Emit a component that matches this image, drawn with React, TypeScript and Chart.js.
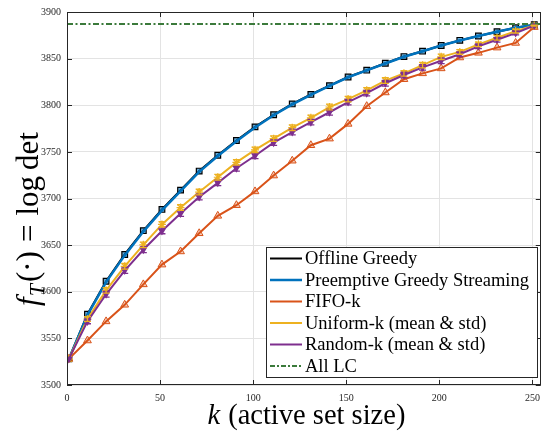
import { useEffect, useRef } from "react";
import { Chart, registerables } from "chart.js";
Chart.register(...registerables);

const kValues = [1, 11, 21, 31, 41, 51, 61, 71, 81, 91, 101, 111, 121, 131, 141, 151, 161, 171, 181, 191, 201, 211, 221, 231, 241, 251];
const offlineGreedy = [3528, 3576, 3611.3, 3640, 3665.5, 3688.3, 3709, 3729.4, 3746.4, 3762.2, 3776.8, 3789.8, 3801.4, 3811.6, 3821, 3830.3, 3837.6, 3845, 3852.2, 3858, 3864.1, 3869.6, 3874.3, 3878.9, 3883.1, 3886.3];
const preemptiveGreedy = [3528, 3575, 3610.3, 3639, 3664.5, 3687.3, 3708, 3728.6, 3745.6, 3761.5, 3776.2, 3789.3, 3801, 3811.2, 3820.7, 3830, 3837.4, 3844.8, 3852, 3857.9, 3864, 3869.5, 3874.2, 3878.8, 3883, 3886.2];
const fifoK = [3528, 3547.7, 3568.2, 3586, 3607.9, 3629.1, 3643.2, 3662.7, 3681.4, 3692.8, 3707.6, 3724.6, 3740.5, 3757.1, 3764.2, 3780, 3799, 3813.7, 3827.9, 3834.2, 3839.5, 3851.2, 3856.2, 3861.8, 3866.8, 3883.8];
const uniformMean = [3528, 3570.8, 3601.5, 3627.3, 3650.3, 3672.2, 3690.3, 3706.9, 3722.8, 3738.7, 3752.2, 3764.2, 3775.9, 3786.5, 3798.1, 3806.6, 3816, 3826.5, 3834.2, 3843, 3851.9, 3857.2, 3865.3, 3872.4, 3879.5, 3885.5];
const uniformStd = [0, 2.5, 3, 3, 3, 3, 3, 3, 3, 3, 3, 3, 3, 3, 3, 3, 3, 3, 3, 3, 3, 2.5, 2.5, 2.5, 2, 0.5];
const randomMean = [3528, 3568.2, 3597.3, 3622.7, 3645, 3665.2, 3683.9, 3701.6, 3716.8, 3732.4, 3745.8, 3759.9, 3771.3, 3781.9, 3792.5, 3803.4, 3813, 3823.6, 3832.4, 3840.6, 3847.7, 3854.7, 3863.2, 3870.3, 3877.4, 3885.5];
const randomStd = [0, 2.5, 3, 3, 3, 3, 3, 3, 3, 3, 3, 3, 3, 3, 3, 3, 3, 3, 3, 3, 3, 2.5, 2.5, 2.5, 2, 0.5];
const allLCValue = 3887;
const allLCRange = [0, 254.5];
const xTicks = [0, 50, 100, 150, 200, 250];
const yTicks = [3500, 3550, 3600, 3650, 3700, 3750, 3800, 3850, 3900];
const legendLabels = ["Offline Greedy", "Preemptive Greedy Streaming", "FIFO-k", "Uniform-k (mean & std)", "Random-k (mean & std)", "All LC"];

const FONT = "'Liberation Serif', 'Times New Roman', serif";
const AXIS = "#262626";
const C_BLACK = "#000000";
const C_BLUE = "#0072BD";
const C_ORANGE = "#D95319";
const C_YELLOW = "#EDB120";
const C_PURPLE = "#7E2F8E";
const C_GREEN = "#3B7A3B";

const pts = (ys: number[]) => ys.map((y, i) => ({ x: kValues[i], y }));

const errorBarPlugin = {
  id: "errorBars",
  afterDatasetsDraw(chart: any) {
    const ctx = chart.ctx;
    const xs = chart.scales.x;
    const ys = chart.scales.y;
    chart.data.datasets.forEach((ds: any) => {
      if (!ds.errStd) return;
      ctx.save();
      ctx.strokeStyle = ds.borderColor;
      ctx.lineWidth = 1.3;
      ds.data.forEach((p: any, i: number) => {
        const s = ds.errStd[i];
        if (!s) return;
        const px = xs.getPixelForValue(p.x);
        const y1 = ys.getPixelForValue(p.y - s);
        const y2 = ys.getPixelForValue(p.y + s);
        ctx.beginPath();
        ctx.moveTo(px, y1);
        ctx.lineTo(px, y2);
        ctx.moveTo(px - 3.5, y1);
        ctx.lineTo(px + 3.5, y1);
        ctx.moveTo(px - 3.5, y2);
        ctx.lineTo(px + 3.5, y2);
        ctx.stroke();
      });
      ctx.restore();
    });
  },
};

const framePlugin = {
  id: "frame",
  afterDatasetsDraw(chart: any) {
    const { ctx, chartArea: a } = chart;
    const xs = chart.scales.x;
    const ys = chart.scales.y;
    ctx.save();
    ctx.strokeStyle = AXIS;
    ctx.lineWidth = 1;
    ctx.strokeRect(Math.round(a.left) + 0.5, Math.round(a.top) + 0.5, Math.round(a.right - a.left) - 1, Math.round(a.bottom - a.top) - 1);
    const tl = 5;
    ctx.beginPath();
    xTicks.forEach((v) => {
      const px = Math.round(xs.getPixelForValue(v)) + 0.5;
      ctx.moveTo(px, a.bottom);
      ctx.lineTo(px, a.bottom - tl);
      ctx.moveTo(px, a.top);
      ctx.lineTo(px, a.top + tl);
    });
    yTicks.forEach((v) => {
      const py = Math.round(ys.getPixelForValue(v)) + 0.5;
      ctx.moveTo(a.left, py);
      ctx.lineTo(a.left + tl, py);
      ctx.moveTo(a.right, py);
      ctx.lineTo(a.right - tl, py);
    });
    ctx.stroke();
    ctx.restore();
  },
};

const titlesPlugin = {
  id: "titles",
  afterDraw(chart: any) {
    const { ctx, chartArea: a } = chart;
    ctx.save();
    ctx.fillStyle = "#000";
    ctx.textBaseline = "alphabetic";
    // x title
    const fs = 28.5;
    const it = `italic ${fs}px ${FONT}`;
    const up = `${fs}px ${FONT}`;
    ctx.font = it;
    const wk = ctx.measureText("k").width;
    ctx.font = up;
    const rest = " (active set size)";
    const wr = ctx.measureText(rest).width;
    const cx = (a.left + a.right) / 2 + 2;
    const x0 = cx - (wk + wr) / 2;
    const by = 424;
    ctx.font = it;
    ctx.fillText("k", x0, by);
    ctx.font = up;
    ctx.fillText(rest, x0 + wk + 1, by);
    // y title
    const fy = 31;
    const itY = `italic ${fy}px ${FONT}`;
    const upY = `${fy}px ${FONT}`;
    const subY = `italic ${Math.round(fy * 0.7)}px ${FONT}`;
    ctx.translate(38, 219);
    ctx.rotate(-Math.PI / 2);
    const parts: { t: string; f: string; dy: number; gap: number }[] = [
      { t: "f", f: itY, dy: 0, gap: 1 },
      { t: "T", f: subY, dy: 6, gap: 2 },
      { t: "(·)", f: upY, dy: 0, gap: 9 },
      { t: "=", f: upY, dy: 0, gap: 9 },
      { t: "log", f: upY, dy: 0, gap: 6 },
      { t: "det", f: upY, dy: 0, gap: 0 },
    ];
    let total = 0;
    parts.forEach((p) => {
      ctx.font = p.f;
      total += ctx.measureText(p.t).width + p.gap;
    });
    let xx = -total / 2;
    parts.forEach((p) => {
      ctx.font = p.f;
      ctx.fillText(p.t, xx, p.dy);
      xx += ctx.measureText(p.t).width + p.gap;
    });
    ctx.restore();
  },
};

const legendPlugin = {
  id: "customLegend",
  afterDraw(chart: any) {
    const ctx = chart.ctx;
    const left = 266.5, top = 247.5, right = 537.5, bottom = 377.5;
    ctx.save();
    ctx.fillStyle = "#fff";
    ctx.fillRect(left, top, right - left, bottom - top);
    ctx.strokeStyle = AXIS;
    ctx.lineWidth = 1;
    ctx.strokeRect(left, top, right - left, bottom - top);
    const entries = [
      { c: C_BLACK, dash: [] as number[], w: 2 },
      { c: C_BLUE, dash: [], w: 2.5 },
      { c: C_ORANGE, dash: [], w: 2 },
      { c: C_YELLOW, dash: [], w: 2 },
      { c: C_PURPLE, dash: [], w: 2 },
      { c: C_GREEN, dash: [5, 2, 2, 2], w: 2 },
    ];
    ctx.font = `18.5px ${FONT}`;
    ctx.textBaseline = "middle";
    entries.forEach((e, i) => {
      const y = 258.5 + i * 21.5;
      ctx.strokeStyle = e.c;
      ctx.lineWidth = e.w;
      ctx.setLineDash(e.dash);
      ctx.beginPath();
      ctx.moveTo(270, y);
      ctx.lineTo(302, y);
      ctx.stroke();
      ctx.setLineDash([]);
      ctx.fillStyle = "#000";
      ctx.fillText(legendLabels[i], 305, y + 1);
    });
    ctx.restore();
  },
};

export default function App() {
  const ref = useRef<HTMLCanvasElement>(null);
  useEffect(() => {
    document.body.style.margin = "0";
    const canvas = ref.current!;
    const chart = new Chart(canvas, {
      type: "line",
      data: {
        datasets: [
          {
            label: legendLabels[5],
            data: allLCRange.map((x) => ({ x, y: allLCValue })),
            borderColor: C_GREEN,
            borderWidth: 2,
            borderDash: [6, 2.5, 2, 2.5],
            pointRadius: 0,
            order: 0,
          },
          {
            label: legendLabels[4],
            data: pts(randomMean),
            borderColor: C_PURPLE,
            backgroundColor: C_PURPLE,
            borderWidth: 2,
            pointStyle: "triangle",
            rotation: 180,
            pointRadius: 2.5,
            errStd: randomStd,
            order: 1,
          } as any,
          {
            label: legendLabels[3],
            data: pts(uniformMean),
            borderColor: C_YELLOW,
            backgroundColor: C_YELLOW,
            borderWidth: 2,
            pointStyle: "star",
            pointRadius: 4,
            pointBorderWidth: 1.2,
            errStd: uniformStd,
            order: 2,
          } as any,
          {
            label: legendLabels[2],
            data: pts(fifoK),
            borderColor: C_ORANGE,
            backgroundColor: "rgba(217,83,25,0.3)",
            borderWidth: 2,
            pointStyle: "triangle",
            pointRadius: 4.5,
            pointBorderWidth: 1,
            order: 3,
          },
          {
            label: legendLabels[1],
            data: pts(preemptiveGreedy),
            borderColor: C_BLUE,
            backgroundColor: C_BLUE,
            borderWidth: 2.5,
            pointRadius: 0,
            order: 4,
          },
          {
            label: legendLabels[0],
            data: pts(offlineGreedy),
            borderColor: C_BLACK,
            backgroundColor: "rgba(0,114,189,0.6)",
            borderWidth: 2,
            pointStyle: "rect",
            pointRadius: 4,
            pointBorderWidth: 1.2,
            order: 5,
          },
        ],
      },
      options: {
        animation: false,
        responsive: false,
        devicePixelRatio: 1,
        layout: { padding: { top: 8, right: 2, left: 0, bottom: 0 } },
        plugins: { legend: { display: false }, tooltip: { enabled: false } },
        elements: { line: { tension: 0 } },
        scales: {
          x: {
            type: "linear",
            min: 0,
            max: 254.5,
            afterBuildTicks: (s: any) => {
              s.ticks = xTicks.map((v) => ({ value: v }));
            },
            afterFit: (s: any) => {
              s.height = 50;
            },
            grid: { color: "#e3e3e3", drawTicks: false },
            border: { display: false },
            ticks: { font: { family: FONT, size: 10 }, color: AXIS, padding: 7, maxRotation: 0, autoSkip: false, callback: (v: any) => String(v) },
          },
          y: {
            type: "linear",
            min: 3500,
            max: 3900,
            afterBuildTicks: (s: any) => {
              s.ticks = yTicks.map((v) => ({ value: v }));
            },
            afterFit: (s: any) => {
              s.width = 67;
            },
            grid: { color: "#e3e3e3", drawTicks: false },
            border: { display: false },
            ticks: { font: { family: FONT, size: 10 }, color: AXIS, padding: 6, autoSkip: false, callback: (v: any) => String(v) },
          },
        },
      },
      plugins: [errorBarPlugin, framePlugin, legendPlugin, titlesPlugin],
    });
    return () => chart.destroy();
  }, []);
  return <canvas ref={ref} width={547} height={435} style={{ display: "block", width: 547, height: 435 }} />;
}
